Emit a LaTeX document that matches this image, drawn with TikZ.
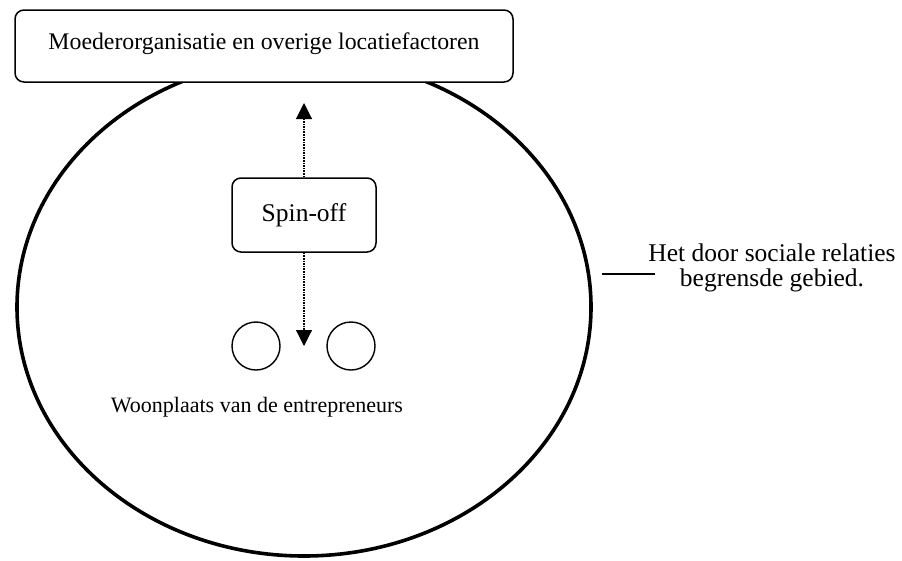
\documentclass[tikz,border=0pt]{standalone}
\usepackage{fontspec}
\setmainfont{Liberation Serif}
\usetikzlibrary{arrows.meta}
\begin{document}
\begin{tikzpicture}[x=1pt,y=-1pt,
  lbl/.style={inner sep=0pt},
  roundbox/.style={draw, line width=1.5pt, rounded corners=9pt, fill=white},
  ring/.style={draw, line width=1.4pt, circle, minimum size=48pt, inner sep=0pt},
  flow/.style={line width=1.1pt, dash pattern=on 1.6pt off 1pt,
    -{Triangle[length=16pt,width=16pt]}}]
\useasboundingbox (0,0) rectangle (902,560);
% area bounded by social relations
\draw[line width=3.6pt] (304,307) ellipse [x radius=287, y radius=249];
% parent organisation box
\node[roundbox, minimum width=498pt, minimum height=72pt] (top) at (264,46) {};
\node[lbl, font=\fontsize{23.8}{28}\selectfont] at (264,44) {Moederorganisatie en overige locatiefactoren};
% spin-off box
\node[roundbox, minimum width=144pt, minimum height=74pt] (spin) at (304,215) {};
\node[lbl, font=\fontsize{25.5}{28}\selectfont] at (spin.center) {Spin-off};
% entrepreneurs' homes
\node[ring] (h1) at (256,346) {};
\node[ring] (h2) at (351,346) {};
\coordinate (up) at (304,103);
\coordinate (down) at (304,346);
\draw[flow] (spin.north) -- (up);
\draw[flow] (spin.south) -- (down);
\node[lbl, font=\fontsize{22}{26}\selectfont] (woon) at (257,407) {Woonplaats van de entrepreneurs};
% label of the bounded area
\coordinate (lead) at (602,274);
\node[lbl, align=center, font=\fontsize{25.5}{25}\selectfont] (area) at (772,268) {Het door sociale relaties\\begrensde gebied.};
\draw[line width=1.3pt] (lead) -- (655,274);
\end{tikzpicture}
\end{document}
